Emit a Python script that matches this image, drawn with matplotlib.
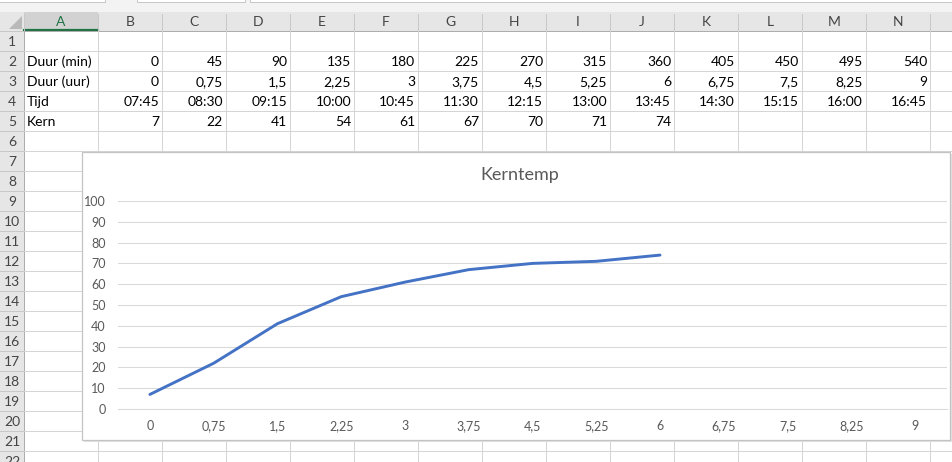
import matplotlib.pyplot as plt
from matplotlib.patches import Rectangle, Polygon

plt.rcParams['font.family'] = ['Lato', 'DejaVu Sans']

# sheet contents
col_letters = ["A", "B", "C", "D", "E", "F", "G", "H", "I", "J", "K", "L", "M", "N"]
row_labels = ["Duur (min)", "Duur (uur)", "Tijd", "Kern"]
duur_min = ["0", "45", "90", "135", "180", "225", "270", "315", "360", "405", "450", "495", "540"]
duur_uur = ["0", "0,75", "1,5", "2,25", "3", "3,75", "4,5", "5,25", "6", "6,75", "7,5", "8,25", "9"]
tijd = ["07:45", "08:30", "09:15", "10:00", "10:45", "11:30", "12:15", "13:00", "13:45",
        "14:30", "15:15", "16:00", "16:45"]
kern = [7, 22, 41, 54, 61, 67, 70, 71, 74]
y_ticks = [0, 10, 20, 30, 40, 50, 60, 70, 80, 90, 100]
chart_title = "Kerntemp"

W, H = 952, 462
row_h = 20
top_hdr, first_row = 12, 31
col_x = [24, 98]
while col_x[-1] < W + 64:
    col_x.append(col_x[-1] + 64)

fig = plt.figure(figsize=(W / 100, H / 100), dpi=100)
bg = fig.add_axes([0, 0, 1, 1])
bg.set_xlim(0, W)
bg.set_ylim(H, 0)
bg.axis("off")

grid_c = "#D4D4D4"
hdr_bg = "#E6E6E6"

# strip above the headers
bg.add_patch(Rectangle((0, 0), W, top_hdr, color="#F3F3F3", lw=0))
for x0, x1 in [(-2, 105), (137, 245), (250, 960)]:
    bg.add_patch(Rectangle((x0, -6), x1 - x0, 7.5, fc="white", ec="#C6C6C6", lw=0.7))

# column header row
bg.add_patch(Rectangle((0, top_hdr), W, first_row - top_hdr, color=hdr_bg, lw=0))
bg.add_patch(Rectangle((col_x[0], top_hdr), col_x[1] - col_x[0], first_row - top_hdr,
                       color="#D2D2D2", lw=0))
bg.plot([col_x[0], col_x[1]], [first_row - 1, first_row - 1], color="#217346", lw=1.6)
bg.add_patch(Polygon([(9, 29), (22, 29), (22, 16)], closed=True, color="#B9B9B9", lw=0))
for i, letter in enumerate(col_letters):
    cx = (col_x[i] + col_x[i + 1]) / 2
    bg.text(cx, 22, letter, ha="center", va="center", fontsize=10,
            color="#217346" if i == 0 else "#444444")
for x in col_x:
    bg.plot([x, x], [top_hdr + 2, first_row], color="#C8C8C8", lw=0.7)
bg.plot([0, W], [first_row, first_row], color="#ABABAB", lw=0.7)

# row header column
bg.add_patch(Rectangle((0, first_row), col_x[0], H - first_row, color=hdr_bg, lw=0))
n_rows = (H - first_row) // row_h + 2
for r in range(n_rows):
    y0 = first_row + r * row_h
    bg.plot([0, col_x[0]], [y0, y0], color="#C8C8C8", lw=0.7)
    if y0 + 8 < H:
        bg.text(12, y0 + row_h / 2 + 1, str(r + 1), ha="center", va="center",
                fontsize=10, color="#444444")
bg.plot([col_x[0], col_x[0]], [first_row, H], color="#ABABAB", lw=0.7)

# cell gridlines
for r in range(1, n_rows):
    y0 = first_row + r * row_h
    bg.plot([col_x[0], W], [y0, y0], color=grid_c, lw=0.7)
for x in col_x[1:]:
    bg.plot([x, x], [first_row, H], color=grid_c, lw=0.7)

# cell text
sheet_rows = [duur_min, duur_uur, tijd, [str(v) for v in kern]]
for k, (label, values) in enumerate(zip(row_labels, sheet_rows)):
    yc = first_row + (k + 1) * row_h + row_h / 2 + 1
    bg.text(col_x[0] + 3, yc, label, ha="left", va="center", fontsize=10, color="black")
    for j, v in enumerate(values):
        bg.text(col_x[j + 2] - 3, yc, v, ha="right", va="center", fontsize=10, color="black")

# chart frame (covers the cell grid)
bg.add_patch(Rectangle((83.5, 153.5), 868, 288, fc="#E2E2E2", lw=0, zorder=5))
bg.add_patch(Rectangle((82, 152), 868, 288, fc="white", ec="#C3C3C3", lw=0.9, zorder=6))

# chart
left, right, top, bottom = 118, 947, 201, 409
ax = fig.add_axes([left / W, (H - bottom) / H, (right - left) / W, (bottom - top) / H])
ax.set_facecolor("none")
ax.plot(range(len(kern)), kern, color="#4472C4", lw=2.1, solid_capstyle="round",
        solid_joinstyle="round")
ax.set_xlim(-0.5, len(duur_uur) - 0.5)
ax.set_ylim(y_ticks[0], y_ticks[-1])
ax.set_xticks(range(len(duur_uur)))
ax.set_xticklabels(duur_uur)
ax.set_yticks(y_ticks)
ax.grid(axis="y", color="#D9D9D9", lw=0.75)
ax.set_axisbelow(True)
for s in ["top", "right", "left"]:
    ax.spines[s].set_visible(False)
ax.spines["bottom"].set_color("#D9D9D9")
ax.spines["bottom"].set_linewidth(0.75)
ax.tick_params(length=0, labelsize=9, colors="#595959")
ax.tick_params(axis="x", pad=8)
ax.tick_params(axis="y", pad=9)
fig.text(520 / W, (H - 175) / H, chart_title, ha="center", va="center",
         fontsize=13, color="#595959")

fig.savefig("out.png", dpi=100)
